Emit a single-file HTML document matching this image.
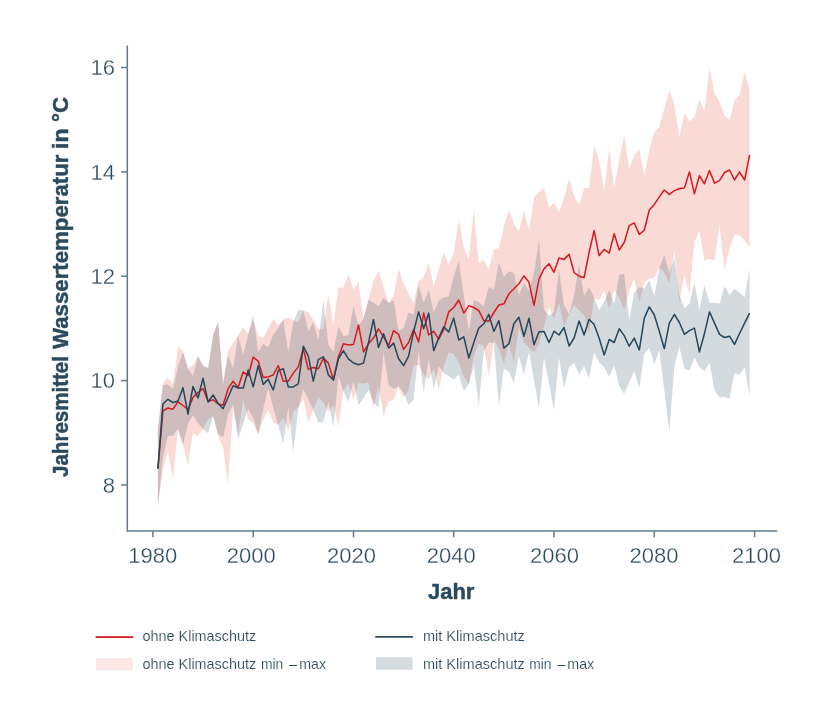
<!DOCTYPE html>
<html lang="de"><head><meta charset="utf-8"><title>Jahresmittel Wassertemperatur</title>
<style>html,body{margin:0;padding:0;background:#fff}body{width:840px;height:720px;overflow:hidden}svg{display:block}</style></head>
<body>
<svg width="840" height="720" viewBox="0 0 840 720">
<rect width="840" height="720" fill="#fff"/>
<path d="M157.9,430.0 L162.9,383.0 L167.9,378.0 L173.0,384.0 L178.0,347.0 L183.0,351.0 L188.0,368.8 L193.0,365.0 L198.0,356.0 L203.0,365.6 L208.1,368.0 L213.1,335.0 L218.1,322.0 L223.1,383.8 L228.1,351.0 L233.1,343.0 L238.1,335.0 L243.2,327.5 L248.2,333.8 L253.2,319.4 L258.2,335.6 L263.2,338.0 L268.2,328.5 L273.2,318.8 L278.2,325.0 L283.3,319.4 L288.3,317.5 L293.3,320.0 L298.3,322.5 L303.3,310.6 L308.3,311.9 L313.3,320.0 L318.4,328.8 L323.4,329.4 L328.4,294.4 L333.4,325.0 L338.4,287.5 L343.4,287.5 L348.4,274.4 L353.5,289.4 L358.5,282.5 L363.5,318.8 L368.5,298.8 L373.5,280.6 L378.5,270.6 L383.5,286.2 L388.6,303.1 L393.6,296.2 L398.6,268.8 L403.6,283.8 L408.6,293.8 L413.6,303.1 L418.6,281.2 L423.7,276.9 L428.7,263.1 L433.7,286.2 L438.7,269.4 L443.7,252.5 L448.7,264.4 L453.7,253.0 L458.8,219.4 L463.8,246.9 L468.8,259.4 L473.8,209.4 L478.8,263.1 L483.8,260.0 L488.8,270.0 L493.9,249.4 L498.9,248.1 L503.9,226.2 L508.9,210.6 L513.9,223.8 L518.9,231.2 L523.9,210.6 L529.0,230.0 L534.0,197.5 L539.0,191.9 L544.0,188.0 L549.0,207.5 L554.0,202.8 L559.0,211.9 L564.0,197.5 L569.1,178.8 L574.1,196.2 L579.1,205.0 L584.1,188.1 L589.1,188.1 L594.1,145.6 L599.1,160.0 L604.2,191.2 L609.2,148.1 L614.2,188.1 L619.2,160.0 L624.2,135.0 L629.2,168.8 L634.2,155.6 L639.3,149.4 L644.3,175.6 L649.3,150.0 L654.3,131.9 L659.3,126.9 L664.3,108.8 L669.3,90.6 L674.4,105.6 L679.4,136.9 L684.4,113.1 L689.4,121.2 L694.4,117.5 L699.4,100.0 L704.4,110.6 L709.5,68.1 L714.5,93.1 L719.5,101.9 L724.5,115.6 L729.5,120.0 L734.5,100.6 L739.5,95.0 L744.6,71.9 L749.6,89.4 L749.6,247.5 L744.6,240.6 L739.5,235.0 L734.5,234.4 L729.5,248.8 L724.5,270.0 L719.5,225.0 L714.5,260.6 L709.5,258.8 L704.4,260.6 L699.4,230.6 L694.4,242.5 L689.4,294.5 L684.4,275.0 L679.4,301.9 L674.4,250.0 L669.3,283.1 L664.3,272.5 L659.3,268.1 L654.3,277.5 L649.3,278.8 L644.3,282.5 L639.3,302.5 L634.2,278.8 L629.2,291.0 L624.2,309.4 L619.2,297.5 L614.2,290.0 L609.2,308.8 L604.2,290.6 L599.1,300.0 L594.1,297.5 L589.1,333.0 L584.1,315.0 L579.1,310.5 L574.1,305.3 L569.1,314.5 L564.0,326.0 L559.0,303.0 L554.0,319.0 L549.0,306.5 L544.0,326.0 L539.0,343.8 L534.0,352.5 L529.0,347.5 L523.9,342.5 L518.9,327.0 L513.9,363.1 L508.9,343.8 L503.9,363.8 L498.9,348.8 L493.9,340.0 L488.8,376.2 L483.8,345.6 L478.8,343.8 L473.8,355.0 L468.8,383.8 L463.8,376.2 L458.8,362.5 L453.7,354.0 L448.7,352.5 L443.7,366.2 L438.7,390.0 L433.7,368.8 L428.7,380.0 L423.7,374.4 L418.6,365.0 L413.6,365.0 L408.6,390.0 L403.6,397.5 L398.6,387.5 L393.6,400.0 L388.6,401.2 L383.5,416.2 L378.5,386.0 L373.5,407.5 L368.5,382.5 L363.5,383.8 L358.5,383.0 L353.5,400.0 L348.4,382.7 L343.4,391.0 L338.4,426.2 L333.4,405.0 L328.4,411.9 L323.4,402.5 L318.4,396.9 L313.3,410.0 L308.3,421.9 L303.3,398.8 L298.3,407.5 L293.3,411.0 L288.3,430.6 L283.3,417.5 L278.2,425.0 L273.2,421.9 L268.2,410.0 L263.2,419.5 L258.2,435.0 L253.2,423.0 L248.2,419.5 L243.2,399.0 L238.1,434.0 L233.1,406.5 L228.1,484.4 L223.1,447.0 L218.1,436.0 L213.1,416.0 L208.1,419.5 L203.0,429.0 L198.0,436.0 L193.0,433.0 L188.0,464.4 L183.0,445.0 L178.0,428.8 L173.0,478.8 L167.9,451.2 L162.9,470.0 L157.9,506.2Z" fill="#e8442e" fill-opacity="0.2"/>
<path d="M157.9,430.0 L162.9,385.0 L167.9,384.5 L173.0,389.0 L178.0,366.0 L183.0,351.9 L188.0,368.8 L193.0,376.0 L198.0,356.0 L203.0,366.0 L208.1,368.0 L213.1,335.0 L218.1,322.0 L223.1,383.8 L228.1,355.0 L233.1,368.8 L238.1,335.6 L243.2,355.0 L248.2,334.4 L253.2,315.0 L258.2,352.0 L263.2,343.8 L268.2,346.9 L273.2,335.0 L278.2,328.0 L283.3,320.0 L288.3,352.0 L293.3,322.5 L298.3,310.0 L303.3,310.6 L308.3,331.2 L313.3,322.5 L318.4,340.0 L323.4,300.6 L328.4,345.0 L333.4,352.0 L338.4,326.2 L343.4,336.2 L348.4,335.0 L353.5,306.2 L358.5,326.0 L363.5,318.8 L368.5,300.0 L373.5,302.5 L378.5,306.2 L383.5,298.1 L388.6,303.1 L393.6,300.6 L398.6,331.0 L403.6,327.5 L408.6,312.5 L413.6,314.4 L418.6,285.6 L423.7,303.1 L428.7,289.4 L433.7,312.0 L438.7,300.6 L443.7,297.5 L448.7,296.2 L453.7,276.2 L458.8,261.2 L463.8,295.0 L468.8,331.2 L473.8,300.0 L478.8,301.9 L483.8,306.2 L488.8,286.9 L493.9,289.4 L498.9,262.5 L503.9,276.9 L508.9,271.2 L513.9,273.1 L518.9,295.0 L523.9,283.0 L529.0,291.0 L534.0,273.0 L539.0,240.0 L544.0,310.0 L549.0,315.5 L554.0,312.0 L559.0,269.4 L564.0,305.0 L569.1,314.5 L574.1,295.0 L579.1,265.6 L584.1,296.0 L589.1,287.0 L594.1,297.5 L599.1,310.0 L604.2,301.9 L609.2,290.0 L614.2,303.8 L619.2,275.0 L624.2,273.8 L629.2,320.6 L634.2,292.5 L639.3,286.9 L644.3,288.8 L649.3,280.0 L654.3,296.2 L659.3,268.1 L664.3,255.0 L669.3,273.1 L674.4,258.1 L679.4,295.0 L684.4,308.1 L689.4,303.8 L694.4,282.5 L699.4,310.0 L704.4,285.0 L709.5,303.1 L714.5,302.5 L719.5,303.8 L724.5,286.0 L729.5,295.0 L734.5,288.8 L739.5,292.5 L744.6,297.5 L749.6,268.8 L749.6,395.6 L744.6,366.9 L739.5,375.0 L734.5,373.1 L729.5,398.8 L724.5,396.9 L719.5,397.5 L714.5,390.0 L709.5,362.5 L704.4,371.2 L699.4,366.9 L694.4,357.5 L689.4,370.6 L684.4,368.8 L679.4,346.9 L674.4,366.2 L669.3,431.5 L664.3,390.0 L659.3,350.0 L654.3,364.4 L649.3,347.5 L644.3,353.8 L639.3,388.1 L634.2,371.2 L629.2,382.5 L624.2,393.8 L619.2,386.2 L614.2,365.6 L609.2,376.9 L604.2,366.9 L599.1,362.5 L594.1,352.5 L589.1,378.1 L584.1,366.2 L579.1,374.4 L574.1,363.1 L569.1,366.9 L564.0,388.8 L559.0,357.5 L554.0,410.6 L549.0,383.8 L544.0,357.5 L539.0,408.1 L534.0,380.0 L529.0,352.0 L523.9,374.4 L518.9,356.2 L513.9,383.1 L508.9,371.9 L503.9,368.8 L498.9,405.6 L493.9,343.0 L488.8,342.5 L483.8,351.2 L478.8,405.6 L473.8,365.6 L468.8,384.0 L463.8,391.2 L458.8,374.4 L453.7,379.4 L448.7,376.2 L443.7,373.0 L438.7,366.2 L433.7,388.8 L428.7,358.8 L423.7,392.5 L418.6,350.0 L413.6,400.0 L408.6,405.0 L403.6,392.5 L398.6,386.2 L393.6,388.8 L388.6,385.0 L383.5,352.5 L378.5,407.5 L373.5,402.5 L368.5,390.0 L363.5,398.0 L358.5,405.0 L353.5,381.0 L348.4,401.9 L343.4,391.0 L338.4,376.0 L333.4,426.9 L328.4,401.9 L323.4,421.9 L318.4,422.5 L313.3,410.0 L308.3,399.4 L303.3,389.0 L298.3,408.8 L293.3,452.5 L288.3,406.2 L283.3,443.8 L278.2,425.0 L273.2,407.5 L268.2,388.5 L263.2,408.5 L258.2,434.0 L253.2,418.0 L248.2,409.0 L243.2,423.0 L238.1,439.5 L233.1,405.0 L228.1,414.0 L223.1,437.5 L218.1,434.0 L213.1,416.0 L208.1,433.5 L203.0,429.0 L198.0,423.0 L193.0,415.0 L188.0,423.8 L183.0,444.4 L178.0,428.8 L173.0,435.6 L167.9,436.2 L162.9,457.5 L157.9,506.0Z" fill="#24495d" fill-opacity="0.2"/>
<polyline points="157.9,468.8 162.9,411.2 167.9,408.0 173.0,409.2 178.0,401.8 183.0,405.5 188.0,409.5 193.0,397.5 198.0,392.5 203.0,388.5 208.1,401.5 213.1,399.8 218.1,404.0 223.1,405.0 228.1,388.8 233.1,381.2 238.1,387.5 243.2,371.9 248.2,375.6 253.2,357.2 258.2,361.2 263.2,377.5 268.2,376.9 273.2,375.0 278.2,365.6 283.3,381.2 288.3,381.2 293.3,373.1 298.3,366.9 303.3,348.8 308.3,369.4 313.3,367.5 318.4,368.8 323.4,358.1 328.4,363.1 333.4,380.0 338.4,356.9 343.4,343.8 348.4,345.0 353.5,344.4 358.5,325.0 363.5,351.9 368.5,343.8 373.5,338.1 378.5,328.8 383.5,336.9 388.6,345.6 393.6,330.6 398.6,334.4 403.6,349.4 408.6,342.5 413.6,329.4 418.6,341.9 423.7,313.1 428.7,335.0 433.7,331.2 438.7,339.4 443.7,329.4 448.7,311.9 453.7,307.5 458.8,300.0 463.8,313.1 468.8,305.6 473.8,307.5 478.8,310.6 483.8,320.6 488.8,321.2 493.9,312.5 498.9,305.0 503.9,303.8 508.9,293.8 513.9,288.8 518.9,283.8 523.9,275.8 529.0,282.3 534.0,305.3 539.0,279.2 544.0,268.9 549.0,263.8 554.0,272.3 559.0,258.1 564.0,259.4 569.1,254.4 574.1,272.5 579.1,276.2 584.1,277.5 589.1,252.5 594.1,230.6 599.1,255.6 604.2,249.4 609.2,253.1 614.2,233.8 619.2,250.0 624.2,242.5 629.2,225.6 634.2,222.8 639.3,234.4 644.3,230.2 649.3,210.0 654.3,204.4 659.3,196.9 664.3,190.0 669.3,194.4 674.4,190.6 679.4,188.5 684.4,188.1 689.4,171.9 694.4,193.8 699.4,175.6 704.4,183.8 709.5,170.6 714.5,183.1 719.5,180.6 724.5,172.5 729.5,170.0 734.5,180.0 739.5,171.9 744.6,180.0 749.6,155.0" fill="none" stroke="#d7191f" stroke-width="1.5" stroke-linejoin="round"/>
<polyline points="157.9,468.8 162.9,404.0 167.9,399.3 173.0,402.5 178.0,401.0 183.0,387.8 188.0,414.0 193.0,386.5 198.0,398.0 203.0,378.2 208.1,402.0 213.1,395.0 218.1,403.5 223.1,408.6 228.1,397.3 233.1,385.8 238.1,388.1 243.2,388.1 248.2,370.0 253.2,386.9 258.2,365.6 263.2,384.4 268.2,379.4 273.2,390.0 278.2,370.6 283.3,368.8 288.3,386.9 293.3,386.9 298.3,383.8 303.3,346.2 308.3,356.2 313.3,381.2 318.4,359.4 323.4,356.9 328.4,375.0 333.4,380.0 338.4,358.8 343.4,350.6 348.4,358.8 353.5,363.0 358.5,364.8 363.5,363.1 368.5,342.5 373.5,319.4 378.5,347.5 383.5,333.8 388.6,348.1 393.6,343.1 398.6,358.8 403.6,365.6 408.6,356.2 413.6,331.9 418.6,311.9 423.7,328.8 428.7,313.1 433.7,350.6 438.7,338.1 443.7,326.9 448.7,331.9 453.7,318.1 458.8,340.0 463.8,336.9 468.8,358.1 473.8,342.5 478.8,328.1 483.8,323.8 488.8,314.4 493.9,331.2 498.9,320.6 503.9,348.1 508.9,343.8 513.9,323.8 518.9,317.2 523.9,336.3 529.0,318.3 534.0,344.8 539.0,331.7 544.0,331.4 549.0,342.5 554.0,331.2 559.0,335.0 564.0,327.5 569.1,346.0 574.1,338.0 579.1,321.0 584.1,335.0 589.1,319.2 594.1,324.4 599.1,338.0 604.2,355.0 609.2,339.4 614.2,342.5 619.2,328.8 624.2,335.6 629.2,346.2 634.2,338.1 639.3,350.0 644.3,318.1 649.3,306.9 654.3,315.0 659.3,331.2 664.3,348.8 669.3,323.1 674.4,314.4 679.4,322.5 684.4,334.4 689.4,330.6 694.4,328.1 699.4,351.9 704.4,333.8 709.5,311.9 714.5,323.1 719.5,334.4 724.5,337.5 729.5,336.2 734.5,344.4 739.5,333.8 744.6,323.1 749.6,313.1" fill="none" stroke="#23465a" stroke-width="1.5" stroke-linejoin="round"/>
<g stroke="#5f7c8d" stroke-width="1.5" fill="none">
<path d="M127.3,45.5 V530.9 H777.3"/>
<path d="M121,67.5 H127.3"/>
<path d="M121,171.9 H127.3"/>
<path d="M121,276.2 H127.3"/>
<path d="M121,380.6 H127.3"/>
<path d="M121,485.0 H127.3"/>
<path d="M152.9,530.9 V537.3"/>
<path d="M253.2,530.9 V537.3"/>
<path d="M353.5,530.9 V537.3"/>
<path d="M453.7,530.9 V537.3"/>
<path d="M554.0,530.9 V537.3"/>
<path d="M654.3,530.9 V537.3"/>
<path d="M754.6,530.9 V537.3"/>
</g>
<g font-family="'Liberation Sans', sans-serif" fill="#2c4a5d">
<text x="115" y="75.3" font-size="22" text-anchor="end" stroke="#fff" stroke-width="0.3">16</text>
<text x="115" y="179.7" font-size="22" text-anchor="end" stroke="#fff" stroke-width="0.3">14</text>
<text x="115" y="284.0" font-size="22" text-anchor="end" stroke="#fff" stroke-width="0.3">12</text>
<text x="115" y="388.4" font-size="22" text-anchor="end" stroke="#fff" stroke-width="0.3">10</text>
<text x="115" y="492.8" font-size="22" text-anchor="end" stroke="#fff" stroke-width="0.3">8</text>
<text x="152.7" y="562.9" font-size="22" text-anchor="middle" stroke="#fff" stroke-width="0.3">1980</text>
<text x="251.2" y="562.9" font-size="22" text-anchor="middle" stroke="#fff" stroke-width="0.3">2000</text>
<text x="351.6" y="562.9" font-size="22" text-anchor="middle" stroke="#fff" stroke-width="0.3">2020</text>
<text x="451.2" y="562.9" font-size="22" text-anchor="middle" stroke="#fff" stroke-width="0.3">2040</text>
<text x="554.6" y="562.9" font-size="22" text-anchor="middle" stroke="#fff" stroke-width="0.3">2060</text>
<text x="653.9" y="562.9" font-size="22" text-anchor="middle" stroke="#fff" stroke-width="0.3">2080</text>
<text x="756.5" y="562.9" font-size="22" text-anchor="middle" stroke="#fff" stroke-width="0.3">2100</text>
<text x="451.2" y="598.8" font-size="22" font-weight="bold" text-anchor="middle" stroke="#2c4a5d" stroke-width="0.45">Jahr</text>
<g transform="translate(67.9,0) rotate(-90)" font-size="22" font-weight="bold" stroke="#2c4a5d" stroke-width="0.45" aria-label="Jahresmittel Wassertemperatur in °C"><text x="-477" y="0" textLength="121" lengthAdjust="spacingAndGlyphs">Jahresmittel</text><text x="-349" y="0" textLength="194.5" lengthAdjust="spacingAndGlyphs">Wassertemperatur</text><text x="-149" y="0" textLength="20.5" lengthAdjust="spacingAndGlyphs">in</text><text x="-122" y="0" textLength="25" lengthAdjust="spacingAndGlyphs">°C</text></g>
<g font-size="15" stroke="#fff" stroke-width="0.15">
<text x="142.6" y="641.1" textLength="113.6" lengthAdjust="spacingAndGlyphs">ohne Klimaschutz</text>
<text x="142.6" y="669.1" textLength="113.6" lengthAdjust="spacingAndGlyphs">ohne Klimaschutz</text><text x="260.9" y="669.1" textLength="22.3" lengthAdjust="spacingAndGlyphs">min</text><text x="289.1" y="669.1" textLength="8" lengthAdjust="spacingAndGlyphs">–</text><text x="299.2" y="669.1" textLength="26.9" lengthAdjust="spacingAndGlyphs">max</text>
<text x="422.9" y="641.1" textLength="102" lengthAdjust="spacingAndGlyphs">mit Klimaschutz</text>
<text x="422.9" y="669.1" textLength="102" lengthAdjust="spacingAndGlyphs">mit Klimaschutz</text><text x="529.2" y="669.1" textLength="22.3" lengthAdjust="spacingAndGlyphs">min</text><text x="557.4" y="669.1" textLength="8" lengthAdjust="spacingAndGlyphs">–</text><text x="567.3" y="669.1" textLength="26.9" lengthAdjust="spacingAndGlyphs">max</text>
</g></g>
<path d="M95.6,637.1 H133.2" stroke="#d7191f" stroke-width="1.8"/>
<path d="M375.2,636.9 H413.1" stroke="#2e4e62" stroke-width="1.9"/>
<rect x="96" y="658" width="36.8" height="12.3" fill="#fde7e4"/>
<rect x="376" y="657.3" width="36.6" height="12.4" fill="#d4dcdf"/>
</svg>
</body></html>
